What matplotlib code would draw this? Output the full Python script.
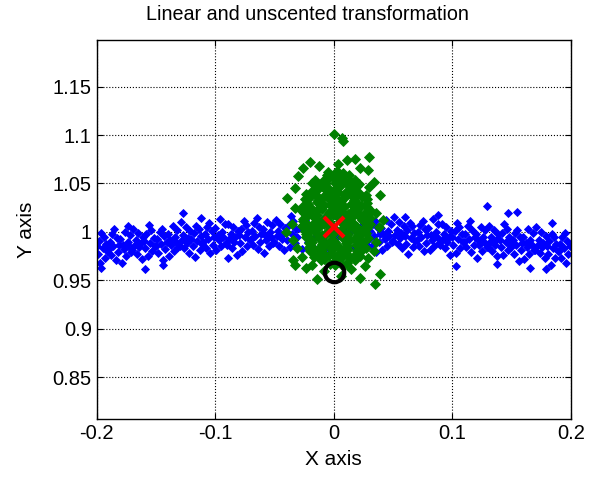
import matplotlib.pyplot as plt

plt.rcParams['font.family'] = ['Liberation Sans', 'DejaVu Sans']

# blue cloud (unscented / sampled points)
blue_x = [
    -0.197, -0.193, -0.199, -0.191, -0.195, -0.200, -0.192, -0.198, -0.194, -0.196,
    -0.184, -0.188, -0.182, -0.190, -0.186, -0.181, -0.189, -0.183, -0.187, -0.185,
    -0.179, -0.175, -0.171, -0.177, -0.173, -0.178, -0.174, -0.180, -0.172, -0.176,
    -0.162, -0.166, -0.170, -0.164, -0.168, -0.163, -0.167, -0.161, -0.165, -0.169,
    -0.157, -0.153, -0.159, -0.151, -0.155, -0.160, -0.152, -0.158, -0.154, -0.156,
    -0.144, -0.148, -0.142, -0.150, -0.146, -0.141, -0.149, -0.143, -0.147, -0.145,
    -0.139, -0.135, -0.131, -0.137, -0.133, -0.138, -0.134, -0.140, -0.132, -0.136,
    -0.122, -0.126, -0.130, -0.124, -0.128, -0.123, -0.127, -0.121, -0.125, -0.129,
    -0.117, -0.113, -0.119, -0.111, -0.115, -0.120, -0.112, -0.118, -0.114, -0.116,
    -0.104, -0.108, -0.102, -0.110, -0.106, -0.101, -0.109, -0.103, -0.107, -0.105,
    -0.099, -0.095, -0.091, -0.097, -0.093, -0.098, -0.094, -0.100, -0.092, -0.096,
    -0.082, -0.086, -0.090, -0.084, -0.088, -0.083, -0.087, -0.081, -0.085, -0.089,
    -0.077, -0.073, -0.079, -0.071, -0.075, -0.080, -0.072, -0.078, -0.074, -0.076,
    -0.064, -0.068, -0.062, -0.070, -0.066, -0.061, -0.069, -0.063, -0.067, -0.065,
    -0.059, -0.055, -0.051, -0.057, -0.053, -0.058, -0.054, -0.060, -0.052, -0.056,
    -0.042, -0.046, -0.050, -0.044, -0.048, -0.043, -0.047, -0.041, -0.045, -0.049,
    -0.037, -0.033, -0.039, -0.031, -0.035, -0.040, -0.032, -0.038, -0.034, -0.036,
    -0.027, -0.022, -0.029, -0.024, -0.018, -0.013, -0.016, -0.011,
    -0.007, -0.003, -0.009, -0.005, 0.002, 0.006, 0.004, 0.008,
    0.013, 0.017, 0.011, 0.018, 0.023, 0.027, 0.021, 0.028,
    0.036, 0.032, 0.038, 0.030, 0.034, 0.039, 0.031, 0.037, 0.033, 0.035,
    0.041, 0.045, 0.049, 0.043, 0.047, 0.042, 0.046, 0.040, 0.048, 0.044,
    0.058, 0.054, 0.050, 0.056, 0.052, 0.057, 0.053, 0.059, 0.055, 0.051,
    0.063, 0.067, 0.061, 0.069, 0.065, 0.060, 0.068, 0.062, 0.066, 0.064,
    0.076, 0.072, 0.078, 0.070, 0.074, 0.079, 0.071, 0.077, 0.073, 0.075,
    0.081, 0.085, 0.089, 0.083, 0.087, 0.082, 0.086, 0.080, 0.088, 0.084,
    0.098, 0.094, 0.090, 0.096, 0.092, 0.097, 0.093, 0.099, 0.095, 0.091,
    0.103, 0.107, 0.101, 0.109, 0.105, 0.100, 0.108, 0.102, 0.106, 0.104,
    0.116, 0.112, 0.118, 0.110, 0.114, 0.119, 0.111, 0.117, 0.113, 0.115,
    0.121, 0.125, 0.129, 0.123, 0.127, 0.122, 0.126, 0.120, 0.128, 0.124,
    0.138, 0.134, 0.130, 0.136, 0.132, 0.137, 0.133, 0.139, 0.135, 0.131,
    0.143, 0.147, 0.141, 0.149, 0.145, 0.140, 0.148, 0.142, 0.146, 0.144,
    0.156, 0.152, 0.158, 0.150, 0.154, 0.159, 0.151, 0.157, 0.153, 0.155,
    0.161, 0.165, 0.169, 0.163, 0.167, 0.162, 0.166, 0.160, 0.168, 0.164,
    0.178, 0.174, 0.170, 0.176, 0.172, 0.177, 0.173, 0.179, 0.175, 0.171,
    0.183, 0.187, 0.181, 0.189, 0.185, 0.180, 0.188, 0.182, 0.186, 0.184,
    0.196, 0.192, 0.198, 0.190, 0.194, 0.199, 0.191, 0.197, 0.193, 0.195,
    -0.127, -0.159, -0.144, -0.089, 0.129, 0.179, 0.166, 0.138, 0.103, 0.147,
    0.155, -0.196, 0.060, -0.174, -0.112, 0.088, 0.184,
]
blue_y = [
    0.968, 0.973, 0.977, 0.980, 0.983, 0.985, 0.988, 0.991, 0.995, 0.999,
    0.971, 0.976, 0.979, 0.982, 0.985, 0.987, 0.990, 0.994, 0.998, 1.003,
    0.968, 0.975, 0.979, 0.982, 0.985, 0.987, 0.990, 0.993, 0.997, 1.000,
    0.972, 0.977, 0.981, 0.984, 0.987, 0.989, 0.992, 0.995, 0.999, 1.003,
    0.975, 0.980, 0.983, 0.986, 0.989, 0.991, 0.994, 0.998, 1.002, 1.007,
    0.971, 0.978, 0.982, 0.985, 0.988, 0.990, 0.993, 0.996, 1.000, 1.003,
    0.975, 0.980, 0.984, 0.987, 0.990, 0.992, 0.995, 0.998, 1.002, 1.006,
    0.978, 0.983, 0.986, 0.989, 0.992, 0.994, 0.997, 1.001, 1.005, 1.010,
    0.974, 0.981, 0.985, 0.988, 0.991, 0.993, 0.996, 0.999, 1.003, 1.006,
    0.978, 0.983, 0.987, 0.990, 0.993, 0.995, 0.998, 1.001, 1.005, 1.009,
    0.981, 0.986, 0.989, 0.992, 0.995, 0.997, 1.000, 1.004, 1.008, 1.013,
    0.976, 0.983, 0.987, 0.990, 0.993, 0.995, 0.998, 1.001, 1.005, 1.008,
    0.980, 0.985, 0.989, 0.992, 0.995, 0.997, 1.000, 1.003, 1.007, 1.011,
    0.982, 0.987, 0.990, 0.993, 0.996, 0.998, 1.001, 1.005, 1.009, 1.014,
    0.978, 0.985, 0.989, 0.992, 0.995, 0.997, 1.000, 1.003, 1.007, 1.010,
    0.981, 0.986, 0.990, 0.993, 0.996, 0.998, 1.001, 1.004, 1.008, 1.012,
    0.984, 0.989, 0.992, 0.995, 0.998, 1.000, 1.003, 1.007, 1.011, 1.016,
    0.982, 0.990, 1.004, 1.012, 0.986, 1.008, 0.995, 0.980,
    0.990, 1.002, 1.013, 0.983, 0.985, 1.010, 0.996, 1.003,
    0.999, 0.984, 1.011, 0.992, 1.006, 0.988, 0.981, 1.013,
    0.979, 0.986, 0.990, 0.993, 0.996, 0.998, 1.001, 1.004, 1.008, 1.011,
    0.981, 0.986, 0.990, 0.993, 0.996, 0.998, 1.001, 1.004, 1.008, 1.012,
    0.983, 0.988, 0.991, 0.994, 0.997, 0.999, 1.002, 1.006, 1.010, 1.015,
    0.977, 0.984, 0.988, 0.991, 0.994, 0.996, 0.999, 1.002, 1.006, 1.009,
    0.980, 0.985, 0.989, 0.992, 0.995, 0.997, 1.000, 1.003, 1.007, 1.011,
    0.981, 0.986, 0.989, 0.992, 0.995, 0.997, 1.000, 1.004, 1.008, 1.013,
    0.976, 0.983, 0.987, 0.990, 0.993, 0.995, 0.998, 1.001, 1.005, 1.008,
    0.978, 0.983, 0.987, 0.990, 0.993, 0.995, 0.998, 1.001, 1.005, 1.009,
    0.979, 0.984, 0.987, 0.990, 0.993, 0.995, 0.998, 1.002, 1.006, 1.011,
    0.973, 0.980, 0.984, 0.987, 0.990, 0.992, 0.995, 0.998, 1.002, 1.005,
    0.975, 0.980, 0.984, 0.987, 0.990, 0.992, 0.995, 0.998, 1.002, 1.006,
    0.976, 0.981, 0.984, 0.987, 0.990, 0.992, 0.995, 0.999, 1.003, 1.008,
    0.970, 0.977, 0.981, 0.984, 0.987, 0.989, 0.992, 0.995, 0.999, 1.002,
    0.972, 0.977, 0.981, 0.984, 0.987, 0.989, 0.992, 0.995, 0.999, 1.003,
    0.973, 0.978, 0.981, 0.984, 0.987, 0.989, 0.992, 0.996, 1.000, 1.005,
    0.966, 0.973, 0.977, 0.980, 0.983, 0.985, 0.988, 0.991, 0.995, 0.998,
    0.968, 0.973, 0.977, 0.980, 0.983, 0.985, 0.988, 0.991, 0.995, 0.999,
    1.020, 0.962, 0.966, 0.973, 1.027, 0.962, 0.963, 0.967, 0.965, 1.020,
    1.021, 0.963, 1.015, 1.006, 1.014, 1.017, 1.009,
]

# green cloud (linearised transformation)
green_x = [
    -0.003, 0.001, 0.008,
    -0.011, -0.008, 0.000, 0.003, 0.011, 0.018,
    -0.017, -0.008, -0.004, 0.003, 0.007, 0.014, 0.022,
    -0.020, -0.012, -0.009, -0.001, 0.006, 0.010, 0.019, 0.023,
    -0.021, -0.017, -0.010, -0.002, 0.001, 0.009, 0.012, 0.020, 0.027,
    -0.020, -0.011, -0.007, 0.000, 0.004, 0.011, 0.019, 0.022,
    -0.021, -0.018, -0.010, -0.003, 0.001, 0.010, 0.014, 0.021, 0.025,
    -0.023, -0.019, -0.012, -0.008, -0.001, 0.007, 0.010, 0.018, 0.021, 0.029,
    -0.023, -0.015, -0.010, -0.002, 0.001, 0.009, 0.012, 0.020, 0.027,
    -0.024, -0.020, -0.013, -0.005, -0.002, 0.006, 0.009, 0.017, 0.024, 0.028,
    -0.027, -0.022, -0.017, -0.008, -0.004, 0.000, 0.009, 0.013, 0.020, 0.028, 0.031,
    -0.026, -0.017, -0.013, -0.006, -0.002, 0.005, 0.013, 0.016, 0.024, 0.029,
    -0.026, -0.023, -0.016, -0.009, -0.006, 0.003, 0.008, 0.013, 0.022, 0.026, 0.031,
    -0.025, -0.018, -0.014, -0.005, -0.001, 0.003, 0.012, 0.017, 0.022, 0.030,
    -0.027, -0.023, -0.014, -0.010, -0.003, 0.001, 0.008, 0.016, 0.018, 0.027, 0.031,
    -0.026, -0.019, -0.011, -0.008, 0.000, 0.005, 0.009, 0.018, 0.023, 0.028,
    -0.022, -0.014, -0.011, -0.003, 0.002, 0.006, 0.015, 0.019, 0.028,
    -0.024, -0.020, -0.013, -0.005, -0.002, 0.006, 0.009, 0.017, 0.024, 0.028,
    -0.023, -0.015, -0.008, -0.004, 0.001, 0.009, 0.014, 0.018, 0.027,
    -0.019, -0.014, -0.006, 0.001, 0.004, 0.011, 0.018, 0.021,
    -0.015, -0.010, -0.005, 0.004, 0.006, 0.015, 0.020,
    -0.018, -0.014, -0.007, 0.001, 0.005, 0.010, 0.018, 0.021,
    -0.016, -0.009, -0.005, 0.004, 0.007, 0.014, 0.018,
    -0.006, -0.001, 0.004, 0.013,
    -0.005, 0.003, 0.008,
    0.000, 0.007, 0.008, -0.020, 0.011, 0.018, 0.030, 0.029, 0.030, -0.033,
    -0.039, 0.039, -0.034, -0.033, 0.039, 0.035, 0.022, -0.023, -0.014, 0.029,
    -0.030, -0.026, -0.012, 0.004, 0.022, 0.034, 0.036, 0.038, 0.036, 0.034,
    -0.033, -0.035, -0.034, -0.031, -0.027, -0.018, -0.008, 0.006, 0.015, 0.026,
    -0.040, 0.042,
]
green_y = [
    0.967, 0.966, 0.965,
    0.971, 0.972, 0.969, 0.970, 0.968, 0.971,
    0.974, 0.973, 0.976, 0.975, 0.974, 0.973, 0.975,
    0.980, 0.977, 0.978, 0.976, 0.979, 0.978, 0.977, 0.980,
    0.983, 0.982, 0.981, 0.983, 0.984, 0.981, 0.982, 0.980, 0.983,
    0.986, 0.985, 0.988, 0.987, 0.986, 0.985, 0.987, 0.988,
    0.989, 0.990, 0.988, 0.991, 0.990, 0.989, 0.992, 0.991, 0.990,
    0.995, 0.993, 0.994, 0.996, 0.992, 0.995, 0.994, 0.993, 0.996, 0.994,
    0.998, 0.999, 0.997, 0.999, 1.000, 0.997, 0.998, 0.996, 0.999,
    1.001, 1.002, 1.004, 1.001, 1.003, 1.002, 1.000, 1.003, 1.002, 1.004,
    1.006, 1.007, 1.005, 1.008, 1.006, 1.004, 1.007, 1.006, 1.005, 1.007, 1.008,
    1.011, 1.009, 1.010, 1.012, 1.008, 1.011, 1.010, 1.009, 1.012, 1.010,
    1.013, 1.015, 1.014, 1.012, 1.015, 1.016, 1.013, 1.014, 1.015, 1.013, 1.014,
    1.020, 1.018, 1.017, 1.019, 1.018, 1.016, 1.019, 1.017, 1.018, 1.020,
    1.022, 1.021, 1.023, 1.024, 1.021, 1.022, 1.020, 1.023, 1.022, 1.021, 1.023,
    1.027, 1.025, 1.026, 1.028, 1.025, 1.027, 1.026, 1.024, 1.027, 1.026,
    1.029, 1.031, 1.030, 1.028, 1.032, 1.030, 1.029, 1.031, 1.030,
    1.034, 1.036, 1.033, 1.035, 1.034, 1.032, 1.035, 1.033, 1.036, 1.034,
    1.039, 1.038, 1.037, 1.040, 1.036, 1.038, 1.039, 1.037, 1.038,
    1.041, 1.043, 1.042, 1.044, 1.041, 1.042, 1.043, 1.040,
    1.046, 1.047, 1.045, 1.046, 1.048, 1.045, 1.047,
    1.051, 1.050, 1.049, 1.051, 1.048, 1.050, 1.052, 1.049,
    1.054, 1.053, 1.055, 1.054, 1.056, 1.053, 1.054,
    1.059, 1.057, 1.058, 1.059,
    1.062, 1.063, 1.061,
    1.101, 1.097, 1.094, 1.072, 1.074, 1.075, 1.077, 1.064, 1.046, 1.045,
    1.035, 1.038, 0.971, 0.966, 0.957, 0.946, 0.952, 0.963, 0.951, 0.973,
    1.058, 1.066, 1.068, 1.070, 1.066, 1.052, 1.020, 1.005, 0.990, 0.980,
    1.025, 1.008, 0.992, 0.983, 0.974, 0.966, 0.960, 0.955, 0.962, 0.965,
    1.000, 1.012,
]

# mean estimates
unscented_mean = (0.0, 1.0055)
linear_mean = (0.0, 0.9585)

x_ticks = [-0.2, -0.1, 0.0, 0.1, 0.2]
x_labels = ['-0.2', '-0.1', '0', '0.1', '0.2']
y_ticks = [0.85, 0.9, 0.95, 1.0, 1.05, 1.1, 1.15]
y_labels = ['0.85', '0.9', '0.95', '1', '1.05', '1.1', '1.15']

fig = plt.figure(figsize=(6.07, 4.8), dpi=100)
ax = fig.add_axes([0.1593, 0.127, 0.7809, 0.7896])

ax.plot(blue_x, blue_y, 'D', color='b', ms=4.0, mew=0.6, mec='b', linestyle='none')
ax.plot(green_x, green_y, 'D', color=(0, 0.5, 0), ms=5.0, mew=0.6, mec=(0, 0.5, 0), linestyle='none')
ax.plot(*unscented_mean, 'x', color='r', ms=14, mew=3)
ax.plot(*linear_mean, 'o', mfc='none', mec='k', ms=14, mew=3)

ax.set_xlim(-0.2, 0.2)
ax.set_ylim(0.807, 1.198)
ax.set_xticks(x_ticks)
ax.set_xticklabels(x_labels)
ax.set_yticks(y_ticks)
ax.set_yticklabels(y_labels)
ax.tick_params(direction='in', top=True, right=True, labelsize=14.5, length=4, width=0.8)
ax.grid(True, linestyle=':', color='k', linewidth=0.8)
for s in ax.spines.values():
    s.set_linewidth(1.0)

fig.text(307.5 / 607, 1 - 14 / 480, 'Linear and unscented transformation',
         fontsize=14.2, ha='center', va='center')
ax.set_xlabel('X axis', fontsize=15, labelpad=5)
ax.set_ylabel('Y axis', fontsize=15, labelpad=12)

plt.savefig('out.png', dpi=100)
